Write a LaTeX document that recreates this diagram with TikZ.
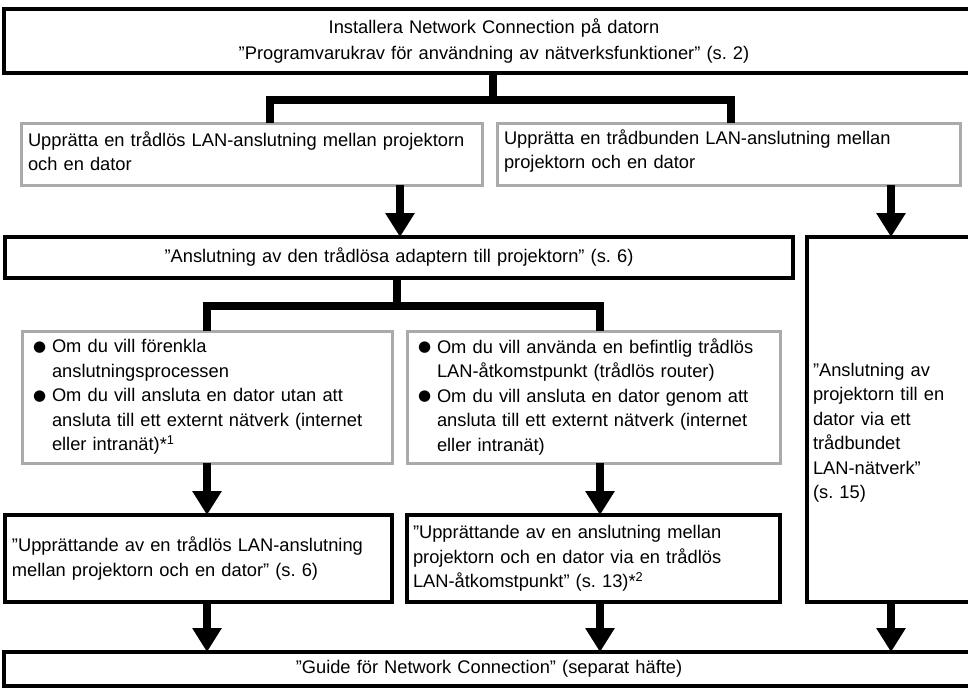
\documentclass[tikz,border=0pt]{standalone}
\usepackage{fontspec}
\setmainfont{Liberation Sans}
\newfontfamily\dejavu{DejaVu Sans}
\usetikzlibrary{arrows.meta,calc}
\definecolor{gborder}{HTML}{AAAAAA}
\newcommand{\bul}{\makebox[19pt][l]{\raisebox{1.5pt}{\dejavu\fontsize{15}{15}\selectfont ●}}}
\newcommand{\ind}{\hspace*{19pt}}
\frenchspacing
\begin{document}
\begin{tikzpicture}[x=1pt,y=-1pt,
  every node/.style={font=\fontsize{18.3pt}{24.5pt}\selectfont\frenchspacing, inner sep=0pt, outer sep=0pt},
  blackbox/.style={draw=black, line width=3.5pt, rectangle},
  graybox/.style={draw=gborder, line width=3pt, rectangle},
  conn/.style={line width=8.5pt, draw=black},
  arr/.style={line width=8.5pt, draw=black, -{Triangle[width=28pt,length=24pt]}},
]
\useasboundingbox (0,0) rectangle (968,688);

% boxes
\node[blackbox, minimum width=980pt, minimum height=64pt, text width=960pt, align=center,
      font=\fontsize{18.3pt}{26pt}\selectfont\frenchspacing] (top) at (494,41)
  {Installera Network Connection på datorn\\”Programvarukrav för användning av nätverksfunktioner” (s. 2)};

\node[graybox, minimum width=461pt, minimum height=62pt] (gb1) at (251.5,154) {};
\node[anchor=west, text width=447pt, align=left] (gb1text) at (28,151)
  {Upprätta en trådlös LAN-anslutning mellan projektorn\\och en dator};
\node[graybox, minimum width=463pt, minimum height=62pt] (gb2) at (728.5,154) {};
\node[anchor=west, text width=449pt, align=left] (gb2text) at (504,151)
  {Upprätta en trådbunden LAN-anslutning mellan\\projektorn och en dator};

\node[blackbox, minimum width=788pt, minimum height=41pt, text width=770pt, align=center] (adapter) at (399,257.5)
  {”Anslutning av den trådlösa adaptern till projektorn” (s. 6)};

\node[blackbox, minimum width=183pt, minimum height=365pt] (right) at (898.5,419.5) {};
\node[anchor=west, text width=171pt, align=left] (righttext) at (813,433)
  {”Anslutning av\\projektorn till en\\dator via ett\\trådbundet\\LAN-nätverk”\\(s. 15)};

\node[graybox, minimum width=370pt, minimum height=132pt, text width=348pt, align=left] (gb3) at (207,397)
  {\bul Om du vill förenkla\\\ind anslutningsprocessen\\\bul Om du vill ansluta en dator utan att\\\ind ansluta till ett externt nätverk (internet\\\ind eller intranät)*\textsuperscript{1}};
\node[graybox, minimum width=373pt, minimum height=132pt, text width=351pt, align=left] (gb4) at (593.5,397)
  {\bul Om du vill använda en befintlig trådlös\\\ind LAN-åtkomstpunkt (trådlös router)\\\bul Om du vill ansluta en dator genom att\\\ind ansluta till ett externt nätverk (internet\\\ind eller intranät)};

\node[blackbox, minimum width=387pt, minimum height=87pt, text width=373pt, align=left] (box5) at (198.5,558.5)
  {”Upprättande av en trådlös LAN-anslutning\\mellan projektorn och en dator” (s. 6)};
\node[blackbox, minimum width=373pt, minimum height=87pt, text width=361pt, align=left] (box6) at (593.5,558.5)
  {”Upprättande av en anslutning mellan\\projektorn och en dator via en trådlös\\LAN-åtkomstpunkt” (s. 13)*\textsuperscript{2}};

\node[blackbox, minimum width=970pt, minimum height=34pt, text width=950pt, align=center] (bottom) at (489,669)
  {”Guide för Network Connection” (separat häfte)};

% tree connectors
\coordinate (j1) at (493,100);
\coordinate (l1) at (270,100);
\coordinate (r1) at (731,100);
\draw[conn] (top.south -| j1) -- (j1);
\draw[conn] (gb1.north -| l1) -- (l1) -- (r1) -- (gb2.north -| r1);

\coordinate (j2) at (397,306);
\coordinate (l2) at (207,306);
\coordinate (r2) at (600,306);
\draw[conn] (adapter.south -| j2) -- (j2);
\draw[conn] (gb3.north -| l2) -- (l2) -- (r2) -- (gb4.north -| r2);

% arrows
\coordinate (xa) at (400,0);
\coordinate (xb) at (891,0);
\coordinate (xc) at (207,0);
\coordinate (xd) at (600,0);
\draw[arr] (gb1.south -| xa) -- (adapter.north -| xa);
\draw[arr] (gb2.south -| xb) -- (right.north -| xb);
\draw[arr] (gb3.south -| xc) -- (box5.north -| xc);
\draw[arr] (gb4.south -| xd) -- (box6.north -| xd);
\draw[arr] (box5.south -| xc) -- (bottom.north -| xc);
\draw[arr] (box6.south -| xd) -- (bottom.north -| xd);
\draw[arr] (right.south -| xb) -- (bottom.north -| xb);
\end{tikzpicture}
\end{document}
